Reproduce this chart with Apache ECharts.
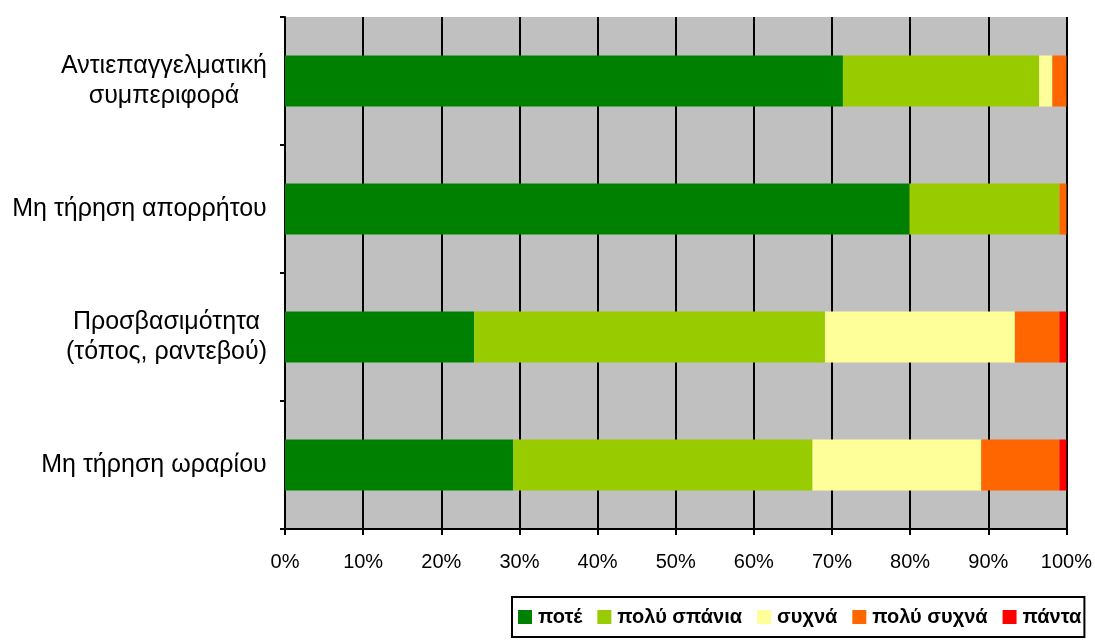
<!DOCTYPE html>
<html><head><meta charset="utf-8">
<script src="https://cdn.jsdelivr.net/npm/echarts@6/dist/echarts.min.js"></script>
<style>html,body{margin:0;padding:0;background:#fff}#c{width:1095px;height:640px}</style>
</head><body><div id="c"></div>
<script>
const categories = ['Αντιεπαγγελματική\nσυμπεριφορά', 'Μη τήρηση απορρήτου', 'Προσβασιμότητα\n(τόπος, ραντεβού)', 'Μη τήρηση ωραρίου'];
const seriesNames = ['ποτέ', 'πολύ σπάνια', 'συχνά', 'πολύ συχνά', 'πάντα'];
const never = [71.4, 79.9, 24.2, 29.2];
const veryRarely = [25.1, 19.2, 44.9, 38.3];
const often = [1.7, 0, 24.3, 21.6];
const veryOften = [1.8, 0.9, 5.7, 10.0];
const always = [0, 0, 0.9, 0.9];
const xTicks = [0, 10, 20, 30, 40, 50, 60, 70, 80, 90, 100];
const colors = ['#008000', '#99CC00', '#FFFF99', '#FF6600', '#FF0000'];
const values = [never, veryRarely, often, veryOften, always];

const FONT = 'Liberation Sans, Arial, sans-serif';
const YLBL = 25;
const ctx = document.createElement('canvas').getContext('2d');
ctx.font = YLBL + 'px ' + FONT;
const rich = {};
const labelMap = {};
categories.forEach((c, i) => {
  const lines = c.split('\n');
  const w = Math.ceil(Math.max(...lines.map(l => ctx.measureText(l).width))) + 2;
  rich['c' + i] = {width: w, align: 'center', fontSize: YLBL, color: '#000', lineHeight: 30, fontFamily: FONT};
  labelMap[c] = lines.map(l => '{c' + i + '|' + l + '}').join('\n');
});

const chart = echarts.init(document.getElementById('c'), null, {renderer: 'canvas'});
chart.setOption({
  animation: false,
  textStyle: {fontFamily: FONT},
  grid: {left: 285, right: 28, top: 17, bottom: 111, show: true, backgroundColor: '#C0C0C0', borderWidth: 0},
  xAxis: {
    type: 'value', min: 0, max: 100, interval: 10,
    axisLine: {show: true, lineStyle: {color: '#000', width: 2}},
    axisTick: {show: true, length: 6, lineStyle: {color: '#000', width: 2}},
    axisLabel: {color: '#000', fontSize: 20, margin: 23, formatter: v => xTicks.includes(v) ? v + '%' : ''},
    splitLine: {show: true, lineStyle: {color: '#000', width: 2}}
  },
  yAxis: {
    type: 'category', data: categories, inverse: true,
    axisLine: {show: true, lineStyle: {color: '#000', width: 2}},
    axisTick: {show: true, length: 5, lineStyle: {color: '#000', width: 2}},
    axisLabel: {color: '#000', fontSize: YLBL, margin: 17, align: 'right', rich: rich, formatter: v => labelMap[v]}
  },
  legend: {
    show: true, data: seriesNames, left: 512, top: 597,
    itemWidth: 14, itemHeight: 14, itemGap: 15, icon: 'rect',
    padding: [10, 3, 10, 6],
    borderColor: '#000', borderWidth: 2, backgroundColor: '#fff',
    textStyle: {color: '#000', fontSize: 20, fontWeight: 'bold', padding: [0, 0, 0, 1]}
  },
  series: seriesNames.map((n, i) => ({
    name: n, type: 'bar', stack: 'total', data: values[i],
    barWidth: 51, itemStyle: {color: colors[i]}
  }))
});
</script></body></html>
